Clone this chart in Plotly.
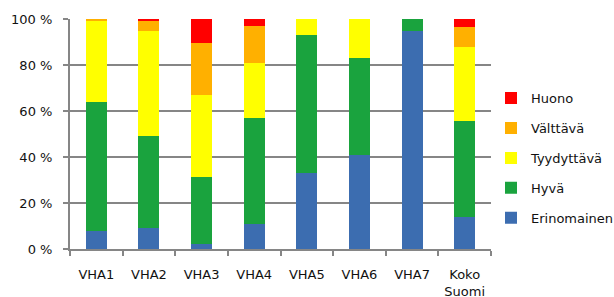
import plotly.graph_objects as go

categories = ["VHA1", "VHA2", "VHA3", "VHA4", "VHA5", "VHA6", "VHA7", "Koko<br>Suomi"]
erinomainen = [8, 9, 2, 11, 33, 41, 95, 14]
hyva = [56, 40, 29.5, 46, 60, 42, 5, 41.5]
tyydyttava = [35, 46, 35.5, 24, 7, 17, 0, 32.5]
valttava = [1, 4, 22.5, 16, 0, 0, 0, 8.5]
huono = [0, 1, 10.5, 3, 0, 0, 0, 3.5]

series = [
    ("Erinomainen", erinomainen, "#3C6DB0"),
    ("Hyvä", hyva, "#1AA33E"),
    ("Tyydyttävä", tyydyttava, "#FFFF00"),
    ("Välttävä", valttava, "#FFB000"),
    ("Huono", huono, "#FF0000"),
]

fig = go.Figure()
for i, (name, vals, color) in enumerate(series):
    fig.add_trace(go.Bar(
        x=categories, y=vals, name=name, legendgroup=name,
        legendrank=len(series) - i,
        marker=dict(color=color, line=dict(width=0)),
        width=0.4,
    ))

font = "DejaVu Sans, Verdana, sans-serif"
fig.update_layout(
    barmode="stack",
    width=614, height=297,
    margin=dict(l=70, r=123, t=19, b=48, autoexpand=False),
    paper_bgcolor="white", plot_bgcolor="white",
    font=dict(family=font, size=13, color="#111111"),
    showlegend=True,
    legend=dict(
        traceorder="grouped", tracegroupgap=10,
        x=1.0, xanchor="left", y=0.395, yanchor="middle",
        font=dict(family=font, size=13, color="#111111"),
        itemwidth=30,
    ),
    xaxis=dict(
        type="category", showline=True, linecolor="#868686", linewidth=2,
        ticks="outside", tickson="boundaries", ticklen=5, tickcolor="#868686",
        tickwidth=2, showgrid=False, tickfont=dict(size=13),
        ticklabelstandoff=12, tickangle=0, automargin=False,
    ),
    yaxis=dict(
        range=[0, 100], dtick=20, ticksuffix=" %",
        showline=True, linecolor="#868686", linewidth=2,
        showgrid=True, gridcolor="#868686", gridwidth=2,
        ticks="outside", ticklen=5, tickcolor="#868686", tickwidth=2,
        zeroline=False, tickfont=dict(size=13),
        ticklabelstandoff=8, automargin=False,
    ),
)
fig.write_html(
    "out.html",
    config={"displayModeBar": False},
    post_script="document.body.style.margin='0';document.body.style.overflow='hidden';",
)
